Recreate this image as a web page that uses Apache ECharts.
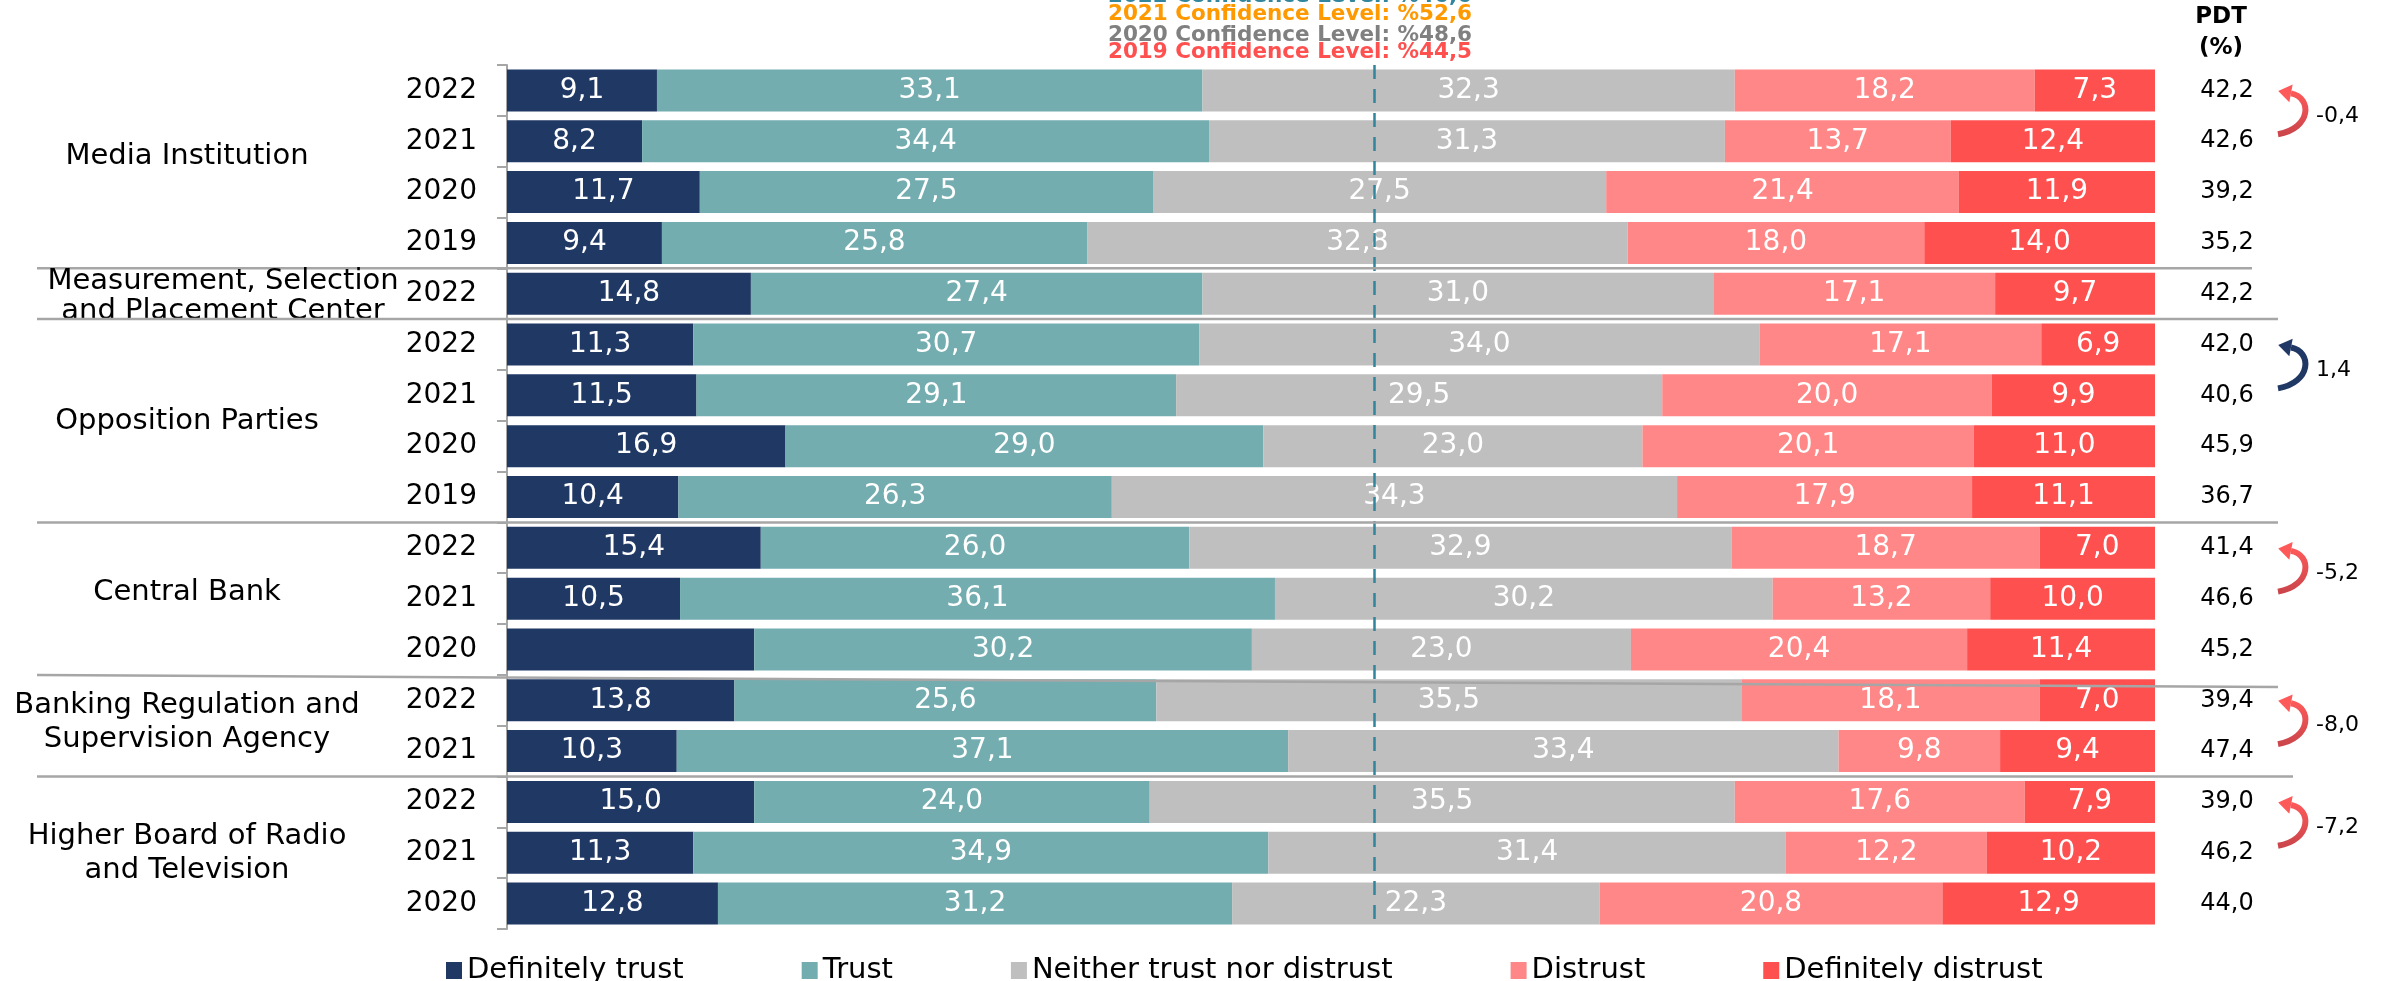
<!DOCTYPE html>
<html>
<head>
<meta charset="utf-8">
<script src="https://cdn.jsdelivr.net/npm/echarts@6/dist/echarts.min.js"></script>
<style>
html, body { margin: 0; padding: 0; background: #fff; }
#main { width: 2389px; height: 981px; }
</style>
</head>
<body>
<div id="main"></div>
<script>
// rows top to bottom
var years = ['2022', '2021', '2020', '2019', '2022', '2022', '2021', '2020', '2019', '2022', '2021', '2020', '2022', '2021', '2022', '2021', '2020'];
var groups = [
    {name: 'Media Institution', rows: 4},
    {name: 'Measurement, Selection\nand Placement Center', rows: 1},
    {name: 'Opposition Parties', rows: 4},
    {name: 'Central Bank', rows: 3},
    {name: 'Banking Regulation and\nSupervision Agency', rows: 2},
    {name: 'Higher Board of Radio\nand Television', rows: 3}
];
var seriesNames = ['Definitely trust', 'Trust', 'Neither trust nor distrust', 'Distrust', 'Definitely distrust'];
var definitelyTrust = [9.1, 8.2, 11.7, 9.4, 14.8, 11.3, 11.5, 16.9, 10.4, 15.4, 10.5, 15.0, 13.8, 10.3, 15.0, 11.3, 12.8];
var trust = [33.1, 34.4, 27.5, 25.8, 27.4, 30.7, 29.1, 29.0, 26.3, 26.0, 36.1, 30.2, 25.6, 37.1, 24.0, 34.9, 31.2];
var neither = [32.3, 31.3, 27.5, 32.8, 31.0, 34.0, 29.5, 23.0, 34.3, 32.9, 30.2, 23.0, 35.5, 33.4, 35.5, 31.4, 22.3];
var distrust = [18.2, 13.7, 21.4, 18.0, 17.1, 17.1, 20.0, 20.1, 17.9, 18.7, 13.2, 20.4, 18.1, 9.8, 17.6, 12.2, 20.8];
var definitelyDistrust = [7.3, 12.4, 11.9, 14.0, 9.7, 6.9, 9.9, 11.0, 11.1, 7.0, 10.0, 11.4, 7.0, 9.4, 7.9, 10.2, 12.9];
var pdt = [42.2, 42.6, 39.2, 35.2, 42.2, 42.0, 40.6, 45.9, 36.7, 41.4, 46.6, 45.2, 39.4, 47.4, 39.0, 46.2, 44.0];
// difference 2022 vs 2021, row = index of the 2022 bar
var changes = [
    {row: 0, value: -0.4},
    {row: 5, value: 1.4},
    {row: 9, value: -5.2},
    {row: 12, value: -8.0},
    {row: 14, value: -7.2}
];
var noLabel = [[0, 11]]; // central bank 2020 first segment has no label in the source
var confidence = [
    {text: '2022 Confidence Level: %46,6', color: '#31859C'},
    {text: '2021 Confidence Level: %52,6', color: '#FF9900'},
    {text: '2020 Confidence Level: %48,6', color: '#808080'},
    {text: '2019 Confidence Level: %44,5', color: '#FF5050'}
];
var confidenceLine = 52.6;

var colors = ['#203864', '#73ADB0', '#BFBFBF', '#FF8787', '#FF5050'];
var font = '"DejaVu Sans", Verdana, sans-serif';
var keys = years.map(function (y, i) { return i + ':' + y; });

function fmt(v) {
    return v.toFixed(1).replace('.', ',');
}

function seg(si, values) {
    return {
        name: seriesNames[si],
        type: 'bar',
        stack: 'total',
        barWidth: 42,
        itemStyle: {color: colors[si]},
        label: {
            show: true,
            color: '#fff',
            fontSize: 28,
            fontFamily: font,
            formatter: function (p) { return fmt(p.value); }
        },
        data: values.map(function (v, i) {
            var hide = noLabel.some(function (n) { return n[0] === si && n[1] === i; });
            return hide ? {value: v, label: {show: false}} : v;
        })
    };
}

var chart = echarts.init(document.getElementById('main'));

var series = [
    seg(0, definitelyTrust),
    seg(1, trust),
    seg(2, neither),
    seg(3, distrust),
    seg(4, definitelyDistrust)
];
series[4].markLine = {
    silent: true,
    symbol: 'none',
    label: {show: false},
    lineStyle: {color: '#31859C', type: [14, 10], width: 2.5},
    data: [{xAxis: confidenceLine}]
};

option = {
    animation: false,
    textStyle: {fontFamily: font},
    grid: {left: 507, right: 234, top: 65, bottom: 52},
    legend: {
        data: seriesNames,
        left: 441,
        top: 951,
        itemGap: 118,
        itemWidth: 16,
        itemHeight: 17,
        icon: 'rect',
        textStyle: {fontSize: 29, color: '#000', fontFamily: font}
    },
    xAxis: {type: 'value', min: 0, max: 100, show: false},
    yAxis: [
        {
            type: 'category',
            inverse: true,
            data: keys,
            axisLine: {lineStyle: {color: '#A6A6A6', width: 2}},
            axisTick: {show: true, length: 10, lineStyle: {color: '#A6A6A6', width: 2}},
            axisLabel: {
                fontSize: 28,
                color: '#000',
                margin: 30,
                fontFamily: font,
                formatter: function (v) { return v.split(':')[1]; }
            }
        },
        {
            type: 'category',
            inverse: true,
            position: 'right',
            data: keys,
            axisLine: {show: false},
            axisTick: {show: false},
            axisLabel: {
                fontSize: 24,
                color: '#000',
                margin: 72,
                align: 'center',
                fontFamily: font,
                formatter: function (v, i) { return fmt(pdt[i]); }
            }
        }
    ],
    series: series
};

chart.setOption(option);

// annotations placed from the axis scale
function yAt(i) {
    return chart.convertToPixel({yAxisIndex: 0}, i);
}
var pitch = yAt(1) - yAt(0);
var g = [];

// group names + dividers
var groupX = [187, 223, 187, 187, 187, 187];
var groupDy = [-10, 3, 1, -6, -3, 1];
var dividerEnd = [2252, 2278, 2278, 2278, 2293];
var dividerSlant = [0, 0, 0, 12, 0];
var start = 0;
groups.forEach(function (gr, k) {
    var end = start + gr.rows - 1;
    var cy = (yAt(start) + yAt(end)) / 2 + groupDy[k];
    g.push({
        type: 'text',
        x: groupX[k],
        y: cy,
        z: 10,
        style: {
            text: gr.name,
            font: '29px ' + font,
            fill: '#000',
            align: 'center',
            verticalAlign: 'middle',
            lineHeight: gr.rows === 1 ? 30 : 34
        }
    });
    if (k < groups.length - 1) {
        var by = yAt(end) + pitch / 2;
        g.push({
            type: 'line',
            z: 10,
            shape: {x1: 37, y1: by, x2: dividerEnd[k], y2: by + dividerSlant[k]},
            style: {stroke: '#A6A6A6', lineWidth: 2.5}
        });
    }
    start = end + 1;
});

// PDT header
g.push({
    type: 'text', x: 2221, y: 17, z: 10,
    style: {text: 'PDT', font: 'bold 23px ' + font, fill: '#000', align: 'center', verticalAlign: 'middle'}
});
g.push({
    type: 'text', x: 2221, y: 48, z: 10,
    style: {text: '(%)', font: 'bold 23px ' + font, fill: '#000', align: 'center', verticalAlign: 'middle'}
});

// confidence level lines at top
var confY = [-4, 14, 35, 52];
confidence.forEach(function (c, k) {
    g.push({
        type: 'text', x: 1290, y: confY[k], z: 10,
        style: {text: c.text, font: 'bold 21.5px ' + font, fill: c.color, align: 'center', verticalAlign: 'middle'}
    });
});

// curved arrows with change values
changes.forEach(function (c) {
    var y1 = yAt(c.row), y2 = yAt(c.row + 1);
    var neg = c.value < 0;
    var sx = 2278, sy = y2 - 7;
    var ex = 2291, ey = y1 + 3;
    var c1x = 2312, c1y = y2 - 13;
    var c2x = 2312, c2y = y1 + 7;
    var dx = ex - c2x, dy = ey - c2y;
    var len = Math.sqrt(dx * dx + dy * dy);
    dx /= len; dy /= len;
    var nx = -dy, ny = dx;
    var headColor = neg ? '#FF5A5A' : '#203864';
    g.push({
        type: 'bezierCurve', z: 10,
        shape: {x1: sx, y1: sy, x2: ex, y2: ey, cpx1: c1x, cpy1: c1y, cpx2: c2x, cpy2: c2y},
        style: {
            stroke: neg ? new echarts.graphic.LinearGradient(0, 1, 0, 0, [
                {offset: 0, color: '#C8444A'}, {offset: 1, color: '#FF5A5A'}
            ]) : '#203864',
            lineWidth: 6,
            fill: null
        }
    });
    g.push({
        type: 'polygon', z: 10,
        shape: {points: [
            [ex + dx * 13, ey + dy * 13],
            [ex + nx * 9, ey + ny * 9],
            [ex - nx * 9, ey - ny * 9]
        ]},
        style: {fill: headColor}
    });
    g.push({
        type: 'text', x: 2316, y: (y1 + y2) / 2, z: 10,
        style: {text: fmt(c.value), font: '22px ' + font, fill: '#000', align: 'left', verticalAlign: 'middle'}
    });
});

chart.setOption({graphic: {elements: g}});
</script>
</body>
</html>
